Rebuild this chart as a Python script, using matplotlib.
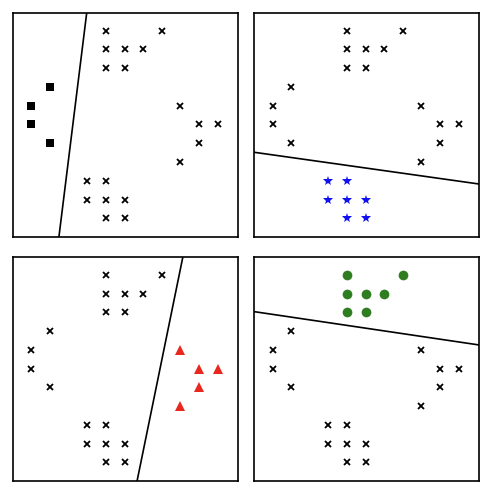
"""One-vs-all illustration: four classes on a grid, one boundary per panel."""

import matplotlib
matplotlib.use("Agg")
import matplotlib.pyplot as plt
import numpy as np

# grid points of each class (x, y with y up)
left_x = [1, 0, 0, 1]
left_y = [7, 6, 5, 4]
top_x = [4, 7, 4, 5, 6, 4, 5]
top_y = [10, 10, 9, 9, 9, 8, 8]
right_x = [8, 9, 10, 9, 8]
right_y = [6, 5, 5, 4, 3]
bottom_x = [3, 4, 3, 4, 5, 4, 5]
bottom_y = [2, 2, 1, 1, 1, 0, 0]

classes = [(left_x, left_y), (bottom_x, bottom_y), (right_x, right_y), (top_x, top_y)]
# which class is "the one" per panel, with its marker style
markers = ["s", "*", "^", "o"]
colours = ["black", "#1010f0", "#e8281e", "#2e7d20"]
sizes = [6, 7.5, 7, 7]

# boundaries: steep ones as x = a + b*y, flat ones as y = a + b*x
boundaries = [("x", 1.60, 0.125), ("y", 3.38, -0.14), ("x", 5.88, 0.206), ("y", 7.89, -0.147)]

XLIM = (-1.0, 11.1)
YLIM = (-1.0, 10.95)

fig = plt.figure(figsize=(4.94, 4.96), dpi=100)
fig.subplots_adjust(left=0.026, right=0.970, bottom=0.030, top=0.974,
                    wspace=0.071, hspace=0.089)

for i in range(4):
    ax = fig.add_subplot(2, 2, i + 1)
    for j, (xs, ys) in enumerate(classes):
        if j == i:
            ax.plot(xs, ys, linestyle="none", marker=markers[i], color=colours[i],
                    markersize=sizes[i], markeredgewidth=0)
        else:
            ax.plot(xs, ys, linestyle="none", marker="x", color="black",
                    markersize=4.5, markeredgewidth=1.3)
    kind, a, b = boundaries[i]
    if kind == "x":
        yy = np.array(YLIM)
        ax.plot(a + b * yy, yy, color="black", lw=1.2)
    else:
        xx = np.array(XLIM)
        ax.plot(xx, a + b * xx, color="black", lw=1.2)
    ax.set_xlim(*XLIM)
    ax.set_ylim(*YLIM)
    ax.set_xticks([])
    ax.set_yticks([])
    for s in ax.spines.values():
        s.set_linewidth(1.2)

fig.savefig("out.png", dpi=100)
